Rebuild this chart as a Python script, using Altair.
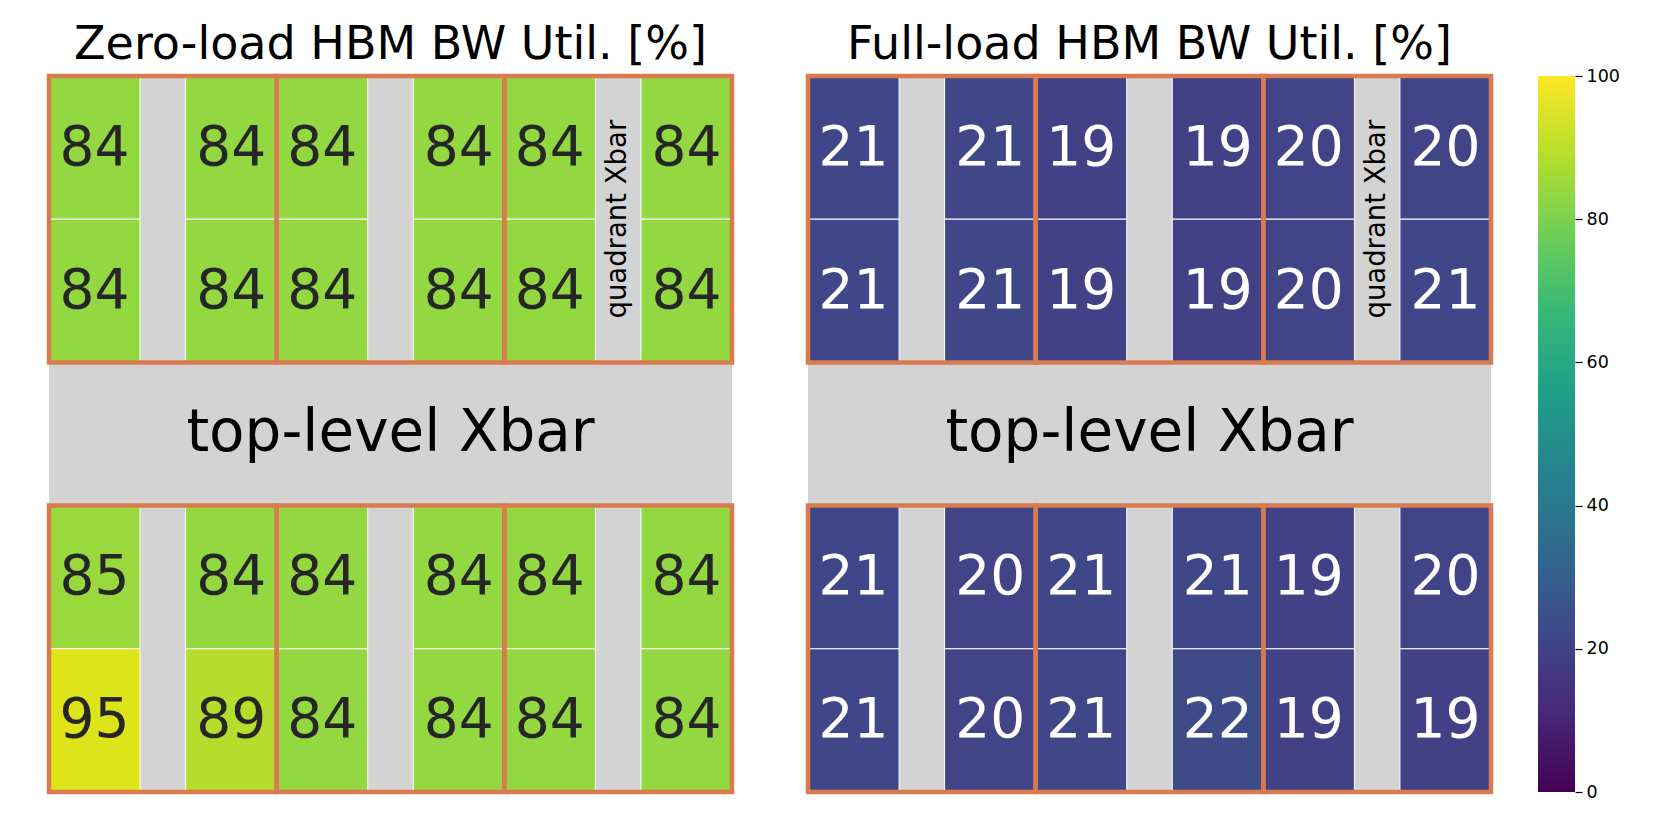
import altair as alt
import pandas as pd

# ---- data ----
zero_top = [[84, 84, 84, 84, 84, 84],
            [84, 84, 84, 84, 84, 84]]
zero_bottom = [[85, 84, 84, 84, 84, 84],
               [95, 89, 84, 84, 84, 84]]
full_top = [[21, 21, 19, 19, 20, 20],
            [21, 21, 19, 19, 20, 21]]
full_bottom = [[21, 20, 21, 21, 19, 20],
               [21, 20, 21, 22, 19, 19]]

titles = ["Zero-load HBM BW Util. [%]", "Full-load HBM BW Util. [%]"]
quadrants = [0, 1, 2]
cbar_ticks = [0, 20, 40, 60, 80, 100]
viridis_stops = ["#440154", "#482878", "#3e4989", "#31688e", "#26828e",
                 "#1f9e89", "#35b779", "#6ece58", "#b5de2b", "#fde725"]

FONT = "DejaVu Sans"
GRAY = "#d3d3d3"
ORANGE = "#d97b4f"


def cells_frame(top, bottom):
    rows = []
    for block, grid in ((0, top), (3, bottom)):
        for ri, row in enumerate(grid):
            for c, v in enumerate(row):
                x0 = (c // 2) * 5 + (c % 2) * 3
                y0 = block + ri
                rows.append({"x0": x0, "x1": x0 + 2, "xc": x0 + 1,
                             "y0": y0, "y1": y0 + 1, "yc": y0 + 0.5, "v": v})
    return pd.DataFrame(rows)


def borders_frame():
    rows = []
    for q in quadrants:
        for b0 in (0, 3):
            rows.append({"x0": 5 * q, "x1": 5 * q + 5, "y0": b0, "y1": b0 + 2})
    return pd.DataFrame(rows)


xs = alt.Scale(domain=[0, 15], nice=False, zero=False)
ys = alt.Scale(domain=[0, 5], nice=False, zero=False, reverse=True)
cs = alt.Scale(scheme="viridis", domain=[0, 100])


def panel(top, bottom, title):
    df = cells_frame(top, bottom)
    bg = alt.Chart(pd.DataFrame({"x0": [0], "x1": [15], "y0": [0], "y1": [5]})).mark_rect(
        fill=GRAY).encode(
        x=alt.X("x0:Q", scale=xs, axis=None), x2="x1:Q",
        y=alt.Y("y0:Q", scale=ys, axis=None), y2="y1:Q")
    cells = alt.Chart(df).mark_rect(stroke="white", strokeWidth=1).encode(
        x=alt.X("x0:Q", scale=xs, axis=None), x2="x1:Q",
        y=alt.Y("y0:Q", scale=ys, axis=None), y2="y1:Q",
        color=alt.Color("v:Q", scale=cs, legend=None))
    nums = alt.Chart(df).mark_text(font=FONT, fontSize=55, baseline="middle", align="center").encode(
        x=alt.X("xc:Q", scale=xs, axis=None),
        y=alt.Y("yc:Q", scale=ys, axis=None),
        text=alt.Text("v:Q", format="d"),
        color=alt.condition(alt.datum.v > 50, alt.value("#262626"), alt.value("white")))
    borders = alt.Chart(borders_frame()).mark_rect(
        fill=None, stroke=ORANGE, strokeWidth=4.5).encode(
        x=alt.X("x0:Q", scale=xs, axis=None), x2="x1:Q",
        y=alt.Y("y0:Q", scale=ys, axis=None), y2="y1:Q")
    top_lbl = alt.Chart(pd.DataFrame({"x": [7.5], "y": [2.5], "t": ["top-level Xbar"]})).mark_text(
        font=FONT, fontSize=58, baseline="middle", align="center", color="black").encode(
        x=alt.X("x:Q", scale=xs, axis=None), y=alt.Y("y:Q", scale=ys, axis=None), text="t:N")
    quad_lbl = alt.Chart(pd.DataFrame({"x": [12.5], "y": [1.0], "t": ["quadrant Xbar"]})).mark_text(
        font=FONT, fontSize=27.5, baseline="middle", align="center", angle=270, color="black").encode(
        x=alt.X("x:Q", scale=xs, axis=None), y=alt.Y("y:Q", scale=ys, axis=None), text="t:N")
    return alt.layer(bg, cells, nums, borders, top_lbl, quad_lbl).properties(
        width=683, height=716,
        title=alt.TitleParams(title, font=FONT, fontSize=46, fontWeight="normal",
                              color="black", offset=5))


left = panel(zero_top, zero_bottom, titles[0])
right = panel(full_top, full_bottom, titles[1])

n = len(viridis_stops)
grad = alt.Gradient(gradient="linear", x1=0, y1=1, x2=0, y2=0,
                    stops=[alt.GradientStop(offset=i / (n - 1), color=c)
                           for i, c in enumerate(viridis_stops)])
cbar = alt.Chart(pd.DataFrame({"lo": [0], "hi": [100]})).mark_rect(fill=grad).encode(
    x=alt.value(0), x2=alt.value(37),
    y=alt.Y("lo:Q", scale=alt.Scale(domain=[0, 100], nice=False),
            axis=alt.Axis(orient="right", values=cbar_ticks, tickSize=7, tickWidth=1.2,
                          tickColor="black", domain=False, grid=False, title=None,
                          labelFont=FONT, labelFontSize=17.5, labelColor="black",
                          labelPadding=4)),
    y2="hi:Q").properties(width=37, height=716)

chart = alt.hconcat(alt.hconcat(left, right, spacing=70), cbar, spacing=44).properties(
    padding={"left": 38, "top": 13, "right": 10, "bottom": 10}
).configure_view(stroke=None)

chart.save("out.html", embed_options={"renderer": "svg", "actions": False})
